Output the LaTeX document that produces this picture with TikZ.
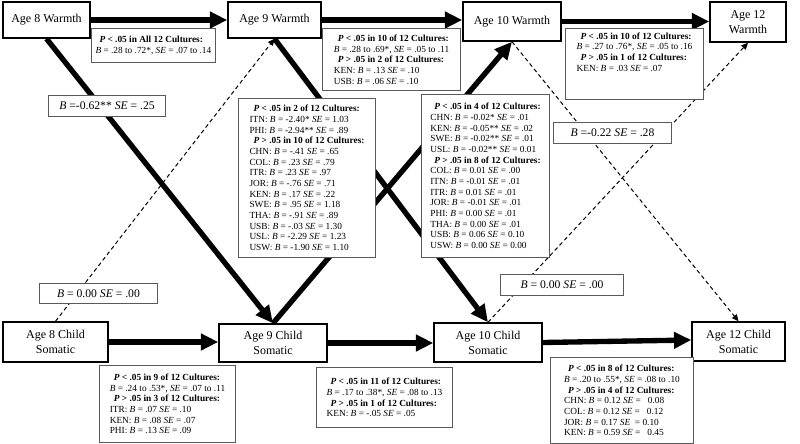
\documentclass[tikz,border=0pt]{standalone}
\usepackage{fontspec}
\setmainfont{Liberation Serif}
\usetikzlibrary{arrows.meta}

\tikzset{every picture/.style={line width=0.75pt}}
\tikzset{
	varbox/.style={draw, line width=1.1pt, fill=white, align=center, inner sep=1pt, font=\fontsize{9}{11.25}\selectfont},
	estbox/.style={draw={rgb, 255:red, 90; green, 90; blue, 90 }, line width=0.75pt, fill=white, anchor=north west, align=left, inner sep=3pt, font=\fontsize{7}{8}\selectfont},
	coefbox/.style={estbox, font=\fontsize{8.75}{10}\selectfont},
	sigpath/.style={line width=4pt, -{Triangle[length=13pt,width=12pt]}},
	nspath/.style={line width=0.75pt, dash pattern=on 3pt off 2.25pt, -{Triangle[length=5pt,width=4.5pt]}}}
\newcommand{\cult}[1]{\hspace*{3pt}\textbf{#1}}

\begin{document}
\begin{tikzpicture}[x=0.75pt,y=0.75pt,yscale=-1,xscale=1]
	\useasboundingbox (0,0) rectangle (800,443);

	% Warmth row
	\node [varbox, minimum width=65.25pt, minimum height=27pt] (w8) at (46.5,20) {Age 8 Warmth};
	\node [varbox, minimum width=69.75pt, minimum height=27pt] (w9) at (274.5,20) {Age 9 Warmth};
	\node [varbox, minimum width=73.5pt, minimum height=29.25pt] (w10) at (512,21.5) {Age 10 Warmth};
	\node [varbox, minimum width=57pt, minimum height=30pt] (w12) at (748,22) {Age 12\\Warmth};
	% Somatic row
	\node [varbox, minimum width=78.75pt, minimum height=30pt] (c8) at (55.5,342) {Age 8 Child\\Somatic};
	\node [varbox, minimum width=81pt, minimum height=28.5pt] (c9) at (273,343) {Age 9 Child\\Somatic};
	\node [varbox, minimum width=81pt, minimum height=29.25pt] (c10) at (488,342.5) {Age 10 Child\\Somatic};
	\node [varbox, minimum width=69.75pt, minimum height=29.25pt] (c12) at (738.5,341.5) {Age 12 Child\\Somatic};

	% Stability paths
	\draw [sigpath] (w8) -- (w9);
	\draw [sigpath] (w9.east) -- (w10.west |- w9.east);
	\draw [sigpath] (w10) -- (w12.west |- w10.east);
	\draw [sigpath] (c8) -- (c9.west |- c8.east);
	\draw [sigpath] (c9.east) -- (c10.west |- c9.east);
	\draw [sigpath] (c10.east) -- (c12.west |- 0,340);
	% Cross-lagged paths
	\draw [sigpath] (w8.south) -- (c9.north);
	\draw [sigpath] (w9.south) -- (c10.north);
	\draw [sigpath] (c9.north) -- (w10.south);
	\draw [nspath] (c8.north) -- (w9.south);
	\draw [nspath] (w10.south) -- (c12.north);
	\draw [nspath] (c10.north) -- (w12.south);

	% Text Node
	\node [estbox, minimum width=91.5pt, minimum height=25.5pt] (e-w8w9) at (91,28) {\cult{\textit{P} < .05 in All 12 Cultures:}\\\textit{B} = .28 to .72*, \textit{SE} = .07 to .14};
	% Text Node
	\node [estbox, minimum width=103.5pt, minimum height=46.5pt] (e-w9w10) at (322,28) {\cult{\textit{P} < .05 in 10 of 12 Cultures:}\\\textit{B} = .28 to .69*, \textit{SE} = .05 to .11\\\cult{\textit{P} > .05 in 2 of 12 Cultures:}\\KEN: \textit{B} = .13 \textit{SE} = .10\\USB: \textit{B} = .06 \textit{SE} = .10};
	% Text Node
	\node [estbox, minimum width=103.5pt, minimum height=50.25pt] (e-w10w12) at (565,28) {\cult{\textit{P} < .05 in 10 of 12 Cultures:}\\\textit{B} = .27 to .76*, \textit{SE} = .05 to .16\\\cult{\textit{P} > .05 in 1 of 12 Cultures:}\\KEN: \textit{B} = .03 \textit{SE} = .07\\[10pt]};
	% Text Node
	\node [estbox, minimum width=102.75pt, minimum height=119.25pt] (e-w9c10) at (238,98) {\cult{\textit{P} < .05 in 2 of 12 Cultures:}\\ITN: \textit{B} = -2.40* \textit{SE} = 1.03\\PHI: \textit{B} = -2.94** \textit{SE} = .89\\\cult{\textit{P} > .05 in 10 of 12 Cultures:}\\CHN: \textit{B} = -.41 \textit{SE} = .65\\COL: \textit{B} = .23 \textit{SE} = .79\\ITR: \textit{B} = .23 \textit{SE} = .97\\JOR: \textit{B} = -.76 \textit{SE} = .71\\KEN: \textit{B} = .17 \textit{SE} = .22\\SWE: \textit{B} = .95 \textit{SE} = 1.18\\THA: \textit{B} = -.91 \textit{SE} = .89\\USB: \textit{B} = -.03 \textit{SE} = 1.30\\USL: \textit{B} = -2.29 \textit{SE} = 1.23\\USW: \textit{B} = -1.90 \textit{SE} = 1.10};
	% Text Node
	\node [estbox, minimum width=96pt, minimum height=122.25pt] (e-c9w10) at (421,94) {\cult{\textit{P} < .05 in 4 of 12 Cultures:}\\CHN: \textit{B} = -0.02* \textit{SE} = .01\\KEN: \textit{B} = -0.05** \textit{SE} = .02\\SWE: \textit{B} = -0.02** \textit{SE} = .01\\USL: \textit{B} = -0.02** \textit{SE} = 0.01\\\cult{\textit{P} > .05 in 8 of 12 Cultures:}\\COL: \textit{B} = 0.01 \textit{SE} = .00\\ITN: \textit{B} = -0.01 \textit{SE} = .01\\ITR: \textit{B} = 0.01 \textit{SE} = .01\\JOR: \textit{B} = -0.01 \textit{SE} = .01\\PHI: \textit{B} = 0.00 \textit{SE} = .01\\THA: \textit{B} = 0.00 \textit{SE} = .01\\USB: \textit{B} = 0.06 \textit{SE} = 0.10\\USW: \textit{B} = 0.00 \textit{SE} = 0.00};
	% Text Node
	\node [estbox, minimum width=102pt, minimum height=57.75pt] (e-c8c9) at (99,365) {\cult{\textit{P} < .05 in 9 of 12 Cultures:}\\\textit{B} = .24 to .53*, \textit{SE} = .07 to .11\\\cult{\textit{P} > .05 in 3 of 12 Cultures:}\\ITR: \textit{B} = .07 \textit{SE} = .10\\KEN: \textit{B} = .08 \textit{SE} = .07\\PHI: \textit{B} = .13 \textit{SE} = .09};
	% Text Node
	\node [estbox, minimum width=102pt, minimum height=45pt] (e-c9c10) at (316,367) {\cult{\textit{P} < .05 in 11 of 12 Cultures:}\\\textit{B} = .17 to .38*, \textit{SE} = .08 to .13\\\cult{\textit{P} > .05 in 1 of 12 Cultures:}\\KEN: \textit{B} = -.05 \textit{SE} = .05};
	% Text Node
	\node [estbox, minimum width=107.25pt, minimum height=64.5pt] (e-c10c12) at (550,357) {\cult{\textit{P} < .05 in 8 of 12 Cultures:}\\\textit{B} = .20 to .55*, \textit{SE} = .08 to .10\\\cult{\textit{P} > .05 in 4 of 12 Cultures:}\\CHN: \textit{B} = 0.12 \textit{SE} = \ \ 0.08\\COL: \textit{B} = 0.12 \textit{SE} = \ \ 0.12\\JOR: \textit{B} = 0.17 \textit{SE} \ = 0.10\\KEN: \textit{B} = 0.59 \textit{SE} = \ \ 0.45};
	% Text Node
	\node [coefbox, minimum width=87.75pt, minimum height=15.75pt] (e-w8c9) at (48,95) {\textit{B} =-0.62** \textit{SE} = .25};
	% Text Node
	\node [coefbox, minimum width=88.5pt, minimum height=15pt] (e-c8w9) at (39,283) {\textit{B} = 0.00 \textit{SE} = .00};
	% Text Node
	\node [coefbox, minimum width=88.5pt, minimum height=15.75pt] (e-w10c12) at (553,122) {\textit{B} =-0.22 \textit{SE} = .28};
	% Text Node
	\node [coefbox, minimum width=92.25pt, minimum height=15.75pt] (e-c10w12) at (500,274) {\textit{B} = 0.00 \textit{SE} = .00};

\end{tikzpicture}
\end{document}
